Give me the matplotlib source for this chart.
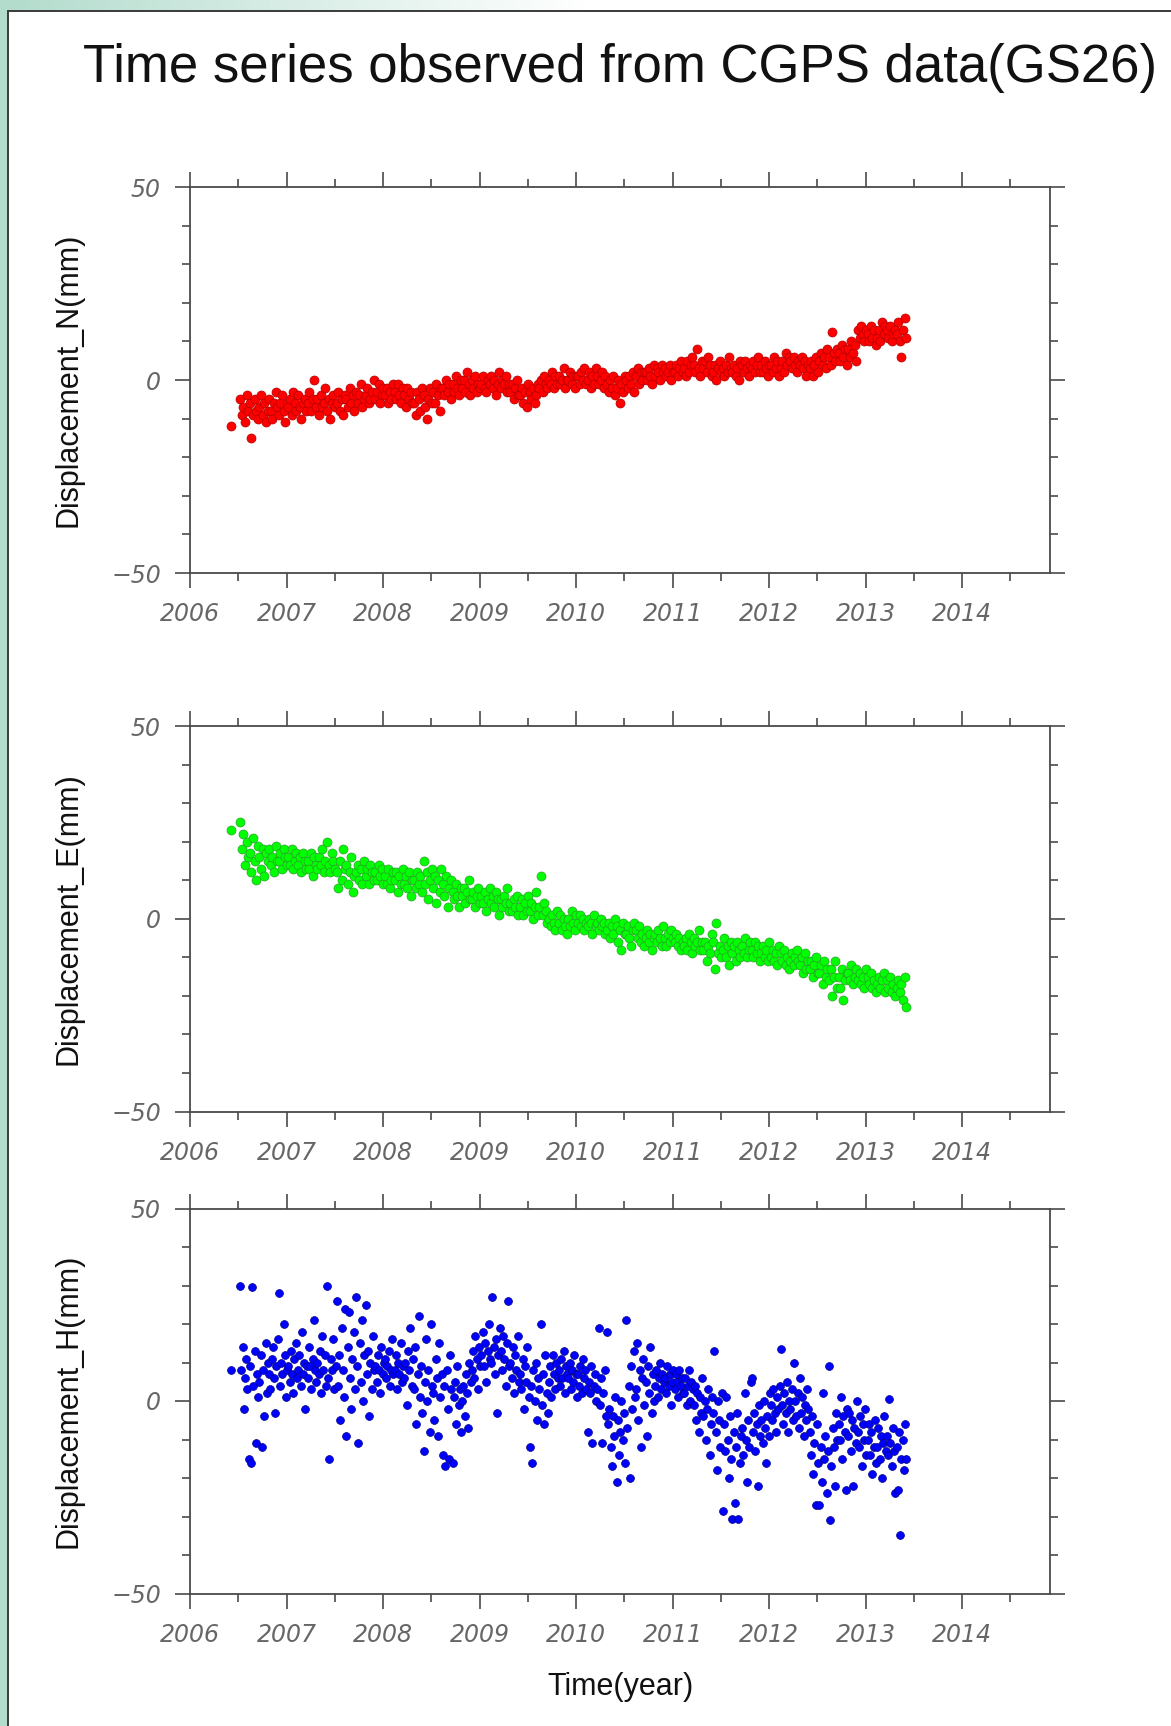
import numpy as np
import matplotlib
matplotlib.use("Agg")
import matplotlib.pyplot as plt
from matplotlib.ticker import MultipleLocator, FixedLocator
from matplotlib.colors import LinearSegmentedColormap
from matplotlib.patches import Rectangle
from matplotlib.lines import Line2D

title = "Time series observed from CGPS data(GS26)"
ylabels = ["Displacement_N(mm)", "Displacement_E(mm)", "Displacement_H(mm)"]
xlabel = "Time(year)"
year_ticks = [2006, 2007, 2008, 2009, 2010, 2011, 2012, 2013, 2014]
y_ticks = [-50, 0, 50]
colors = ["#ff0000", "#00ff00", "#0000ff"]
edge_colors = ["#b00000", "#2aa02a", "#000080"]

# one line = 0.1 year (starts 2006.52), None = no data
n_values = [-12, None, None, None, None, None,
    -5, -9, -7, -11, -4, -8,
    -6, -15, -9, -5, -8, -10,
    -7, -4, -9, -6, -11, -8,
    -5, -8, -10, -6, -3, -7,
    -9, -6, -4, -8, -11, -6,
    -7, -5, -9, -3, -6, -8,
    -4, -7, -10, -6, -5, -8,
    -6, -3, -8, -5, 0, -7,
    -5, -9, -4, -7, -6, -2,
    -8, -5, -10, -6, -4, -7,
    -6, -3, -8, -5, -9, -4,
    -5, -7, -2, -6, -4, -8,
    -3, -6, -4, -1, -7, -5,
    -4, -2, -6, -5, -3, 0,
    -5, -3, -1, -6, -4, -2,
    -4, -2, -6, -3, -5, -1,
    -3, -5, -1, -4, -6, -2,
    -4, -7, -2, -5, -3, -6,
    -6, -9, -3, -5, -8, -2,
    -4, -7, -10, -5, -2, -6,
    -3, -6, -1, -4, -8, -2,
    -2, -4, 0, -3, -1, -5,
    -1, -3, 1, -2, -4, 0,
    -2, 0, -3, 2, -1, -4,
    0, -2, 1, -3, -1, -2,
    -1, 1, -2, -3, 0, -1,
    1, -2, 0, -4, -1, 2,
    -2, 0, -1, 1, -3, -1,
    -3, -1, -5, -2, 0, -4,
    -4, -2, -6, -3, -7, -1,
    -3, -5, -2, -6, -4, -1,
    -2, 0, -3, 1, -1, -2,
    0, -1, 2, -2, 1, -1,
    1, -1, 0, 3, -2, 0,
    0, 2, -1, 1, -2, 1,
    1, -1, 2, 0, 3, -1,
    0, 2, -2, 1, -1, 3,
    1, -1, 0, 2, -2, 1,
    -1, -3, 0, -2, 1, -4,
    -2, 0, -6, -1, -3, 1,
    0, -2, 1, -1, 2, -3,
    1, 3, -1, 2, 0, 2,
    2, 0, 3, 1, -1, 4,
    1, 3, 2, 0, 4, 2,
    3, 1, 2, 4, 0, 2,
    2, 4, 1, 3, 5, 2,
    3, 1, 5, 2, 4, 6,
    4, 2, 8, 3, 1, 5,
    3, 5, 2, 6, 4, 1,
    2, 4, 0, 3, 5, 2,
    3, 1, 4, 2, 6, 3,
    2, 4, 1, 3, 0, 5,
    4, 2, 5, 3, 1, 4,
    3, 5, 2, 4, 6, 2,
    4, 2, 5, 3, 1, 4,
    4, 2, 6, 3, 5, 1,
    3, 5, 2, 7, 4, 6,
    5, 3, 6, 4, 2, 5,
    4, 6, 3, 5, 1, 4,
    3, 5, 1, 4, 6, 2,
    5, 7, 4, 6, 3, 8,
    6, 4, 12.5, 7, 5, 8,
    7, 5, 9, 6, 8, 4,
    8, 6, 10, 7, 9, 5,
    13, 11, 14, 12, 10, 13,
    12, 10, 14, 11, 13, 9,
    11, 13, 10, 15, 12, 14,
    13, 11, 14, 10, 12, 13,
    12, 15, 10, 6, 13, 16,
    11]

e_values = [23, None, None, None, None, None,
    25, 18, 22, 14, 20, 16,
    17, 12, 21, 15, 10, 19,
    16, 13, 18, 11, 17, 15,
    18, 14, 16, 12, 19, 15,
    15, 17, 13, 18, 16, 14,
    16, 14, 18, 13, 15, 17,
    14, 16, 12, 17, 15, 13,
    15, 13, 17, 11, 16, 14,
    13, 16, 14, 18, 12, 15,
    20, 14, 12, 17, 15, 13,
    12, 8, 15, 10, 18, 13,
    14, 9, 12, 16, 7, 11,
    12, 14, 10, 13, 9, 15,
    11, 13, 9, 14, 12, 10,
    12, 10, 14, 11, 13, 9,
    11, 9, 13, 8, 10, 12,
    10, 12, 7, 11, 9, 13,
    9, 11, 8, 12, 6, 10,
    10, 8, 12, 9, 11, 7,
    15, 9, 12, 5, 10, 13,
    8, 11, 4, 10, 7, 13,
    9, 6, 11, 3, 8, 10,
    7, 5, 9, 6, 3, 8,
    6, 8, 4, 7, 10, 5,
    5, 7, 3, 6, 8, 4,
    6, 4, 7, 2, 5, 8,
    4, 6, 3, 7, 5, 1,
    5, 3, 6, 4, 8, 2,
    4, 2, 5, 3, 6, 1,
    3, 5, 1, 4, 2, 6,
    2, 4, 0, 3, 7, 1,
    3, 11, 1, 4, 2, -1,
    0, -2, 1, -1, -3, 2,
    -1, 1, -3, 0, -2, -4,
    0, -2, 2, -1, -3, 1,
    -1, 1, -2, 0, -3, -1,
    -2, 0, -1, -4, 1, -2,
    -1, -3, 0, -2, -1, -4,
    -3, -1, -5, -2, -4, 0,
    -2, -6, -3, -8, -1, -4,
    -4, -2, -5, -7, -3, -1,
    -3, -5, -2, -6, -4, -7,
    -5, -3, -6, -4, -8, -5,
    -4, -6, -3, -5, -7, -2,
    -5, -7, -4, -6, -3, -5,
    -6, -4, -7, -5, -8, -6,
    -7, -5, -8, -4, -6, -9,
    -5, -7, -6, -3, -8, -6,
    -8, -6, -11, -7, -9, -4,
    -6, -13, -1, -9, -7, -10,
    -8, -5, -10, -7, -12, -6,
    -9, -7, -11, -6, -8, -10,
    -7, -9, -5, -10, -8, -6,
    -8, -10, -6, -9, -7, -11,
    -9, -7, -10, -8, -11, -6,
    -10, -8, -11, -9, -12, -7,
    -9, -11, -8, -12, -10, -13,
    -11, -9, -12, -10, -8, -11,
    -12, -10, -14, -9, -13, -11,
    -13, -11, -15, -12, -10, -14,
    -14, -12, -17, -11, -15, -13,
    -16, -13, -20, -15, -11, -18,
    -15, -18, -13, -21, -16, -14,
    -14, -16, -12, -17, -15, -13,
    -16, -14, -17, -15, -18, -13,
    -15, -17, -14, -18, -16, -19,
    -17, -15, -18, -16, -14, -19,
    -16, -18, -15, -19, -17, -20,
    -18, -16, -19, -17, -21, -15,
    -23]

h_values = [8, None, None, None, None, None, None, None,
    30, 8, 14, -2, 6, 11, 3, -15,
    9, -16, 29.6, 4, 13, -11, 7, 1,
    5, 12, -12, 8, -4, 15, 2, 10,
    7, 3, 11, 14, 6, -3, 9, 16,
    28, 4, 10, 7, 20, 12, 1, 8,
    9, 5, 13, 7, 2, 11, 15, 6,
    8, 12, 4, 18, 7, 10, -2, 9,
    6, 14, 9, 3, 11, 21, 8, 5,
    10, 7, 13, 2, 17, 8, 12, 4,
    30, 6, -15, 11, 8, 16, 3, 9,
    26, 4, 12, -5, 19, 8, 1, 24,
    -9, 14, 23, 6, -2, 11, 18, 3,
    27, 9, -11, 15, 5, 21, 0, 12,
    25, 7, 13, -4, 10, 3, 17, 8,
    9, 5, 12, 8, 2, 14, 7, 10,
    11, 6, 9, 13, 4, 8, 16, 7,
    8, 12, 3, 10, 7, 15, 5, 9,
    6, 10, -1, 13, 8, 19, 4, 11,
    3, 14, -6, 7, 22, 1, 9, -3,
    -13, 5, 16, 0, 8, -8, 20, 4,
    2, -5, 11, 6, -9, 15, 1, 7,
    -14, 4, -17, 8, -2, -15, 12, 3,
    -16, 1, 5, -6, 9, -1, 3, -8,
    0, 4, -4, 7, 2, -7, 10, 5,
    8, 13, 6, 17, 11, 3, 14, 9,
    12, 18, 9, 15, 5, 13, 20, 11,
    10, 27, 14, 7, 16, -3, 12, 19,
    13, 8, 17, 11, 4, 15, 26, 9,
    10, 6, 14, 2, 12, 8, 17, 5,
    7, 3, 11, -2, 9, 5, 14, 1,
    -12, 4, -16, 8, 0, 10, -5, 6,
    3, 20, -1, 7, -6, 12, 2, -3,
    5, 9, 1, 12, 7, 3, 10, 6,
    8, 4, 11, 6, 13, 2, 9, 7,
    6, 10, 3, 8, 5, 12, 7, 1,
    7, 4, 9, 2, 11, 6, 8, 3,
    -8, 5, 2, 9, -11, 4, 7, 0,
    3, 19, -1, 6, -11, 2, 8, -4,
    18, -6, -2, -12, -17, -4, -9, 1,
    -21, -5, -14, -8, 0, -10, -3, -16,
    21, -7, 4, -20, 9, -2, 13, 1,
    3, 15, -5, 8, -12, 6, 11, -1,
    5, -9, 9, 2, 14, -3, 7, 0,
    4, 8, 1, 6, 10, 3, 7, 5,
    6, 2, 9, 4, 7, -1, 5, 8,
    3, 7, 5, 1, 8, 4, 6, 2,
    2, 6, -1, 4, 8, 0, 5, 3,
    -1, 4, -5, 2, -8, 1, -3, 6,
    -4, 0, -10, -2, 3, -14, -6, 1,
    -3, 13, -8, -18, 0, -5, -12, 2,
    -28.6, -6, -13, 1, -10, -20, -4, -15,
    -30.6, -8, -26.5, -12, -3, -30.6, -16, -9,
    -7, -14, 2, -10, -21, -5, -12, 5,
    6, -8, -3, -13, -6, -22, -1, -9,
    -5, -11, 0, -7, -16, -4, -9, 2,
    -1, -5, 3, -3, -8, 1, -2, 4,
    13.5, -1, -6, 2, -3, 5, -8, 0,
    -2, 3, -5, 10, 0, -4, 2, -7,
    6, -3, 1, -9, -1, -5, 3, -2,
    -8, -14, -4, -19, -11, -27, -6, -16,
    -27, -12, -21, 2, -15, -9, -24, -13,
    9, -31, -17, -7, -12, -22, -3, -10,
    -6, -10, 1, -15, -4, -8, -23, -2,
    -9, -3, -13, -5, -22, -7, -11, 0,
    -8, -12, -4, -17, -6, -10, -2, -14,
    -10, -6, -14, -8, -19, -12, -5, -16,
    -12, -7, -15, -9, -20, -11, -4, -13,
    -9, -14, 0.5, -11, -17, -7, -13, -24,
    -12, -23, -8, -34.7, -15, -10, -18, -6,
    -15]

t_start, t_end = 2006.42, 2013.42
series = [n_values, e_values, h_values]
marker_sizes = [42, 42, 32]

W, H = 1171, 1726
fig = plt.figure(figsize=(W / 100, H / 100), dpi=100)
fig.patch.set_facecolor("white")

# screenshot frame: green strip left + fading strip on top
green = "#b3dccd"
fig.patches.append(Rectangle((0, 0), 7.5 / W, 1, transform=fig.transFigure,
                             facecolor=green, edgecolor="none", zorder=0))
top = fig.add_axes([0, 1 - 11 / H, 1, 11 / H])
cmap = LinearSegmentedColormap.from_list("fade", [green, "#ffffff", "#ffffff"])
top.imshow(np.linspace(0, 1, 200)[None, :], cmap=cmap, aspect="auto", extent=[0, 1, 0, 1])
top.axis("off")
fig.lines.append(Line2D([7.5 / W, 7.5 / W], [0, 1 - 11 / H], transform=fig.transFigure,
                        color="#3a3a3a", lw=1.4))
fig.lines.append(Line2D([7.5 / W, 1], [1 - 11 / H, 1 - 11 / H], transform=fig.transFigure,
                        color="#3a3a3a", lw=1.4))

# panel positions in pixels (top, bottom)
panels = [(187, 573), (726, 1111.5), (1208.5, 1593.5)]
left_px, right_px = 190, 1050
axis_col = "#4a4a4a"
tick_col = "#666666"

for i, (ptop, pbot) in enumerate(panels):
    ax = fig.add_axes([left_px / W, 1 - pbot / H, (right_px - left_px) / W, (pbot - ptop) / H])
    vals = np.array(series[i], dtype=float)
    t = np.linspace(t_start, t_end, len(vals))
    ax.scatter(t, vals, s=marker_sizes[i], c=colors[i], edgecolors=edge_colors[i],
               linewidths=0.5, zorder=3)

    ax.set_xlim(2006, 2014.91)
    ax.set_ylim(-50, 50)
    ax.xaxis.set_major_locator(FixedLocator(year_ticks))
    ax.xaxis.set_minor_locator(MultipleLocator(0.5))
    ax.yaxis.set_major_locator(FixedLocator(y_ticks))
    ax.yaxis.set_minor_locator(MultipleLocator(10))
    ax.set_xticklabels([str(y) for y in year_ticks])
    ax.tick_params(which="both", direction="out", top=True, right=True, color=axis_col,
                   width=1.2, labelcolor=tick_col, labelsize=17, pad=10)
    ax.tick_params(which="major", length=11)
    ax.tick_params(which="minor", length=5.5)
    for lab in ax.get_xticklabels() + ax.get_yticklabels():
        lab.set_fontstyle("italic")
        lab.set_family("DejaVu Sans")
    for sp in ax.spines.values():
        sp.set_color(axis_col)
        sp.set_linewidth(1.3)

    ycen = 1 - (ptop + pbot) / 2 / H
    fig.text(69 / W, ycen, ylabels[i], rotation=90, ha="center", va="center",
             fontsize=22, family="Liberation Sans", color="#111111")

fig.text(620 / W, 1 - 68 / H, title, ha="center", va="center", fontsize=38,
         family="Liberation Sans", color="#111111")
fig.text(620 / W, 1 - 1687 / H, xlabel, ha="center", va="center", fontsize=22,
         family="Liberation Sans", color="#111111")

fig.savefig("out.png", dpi=100)
